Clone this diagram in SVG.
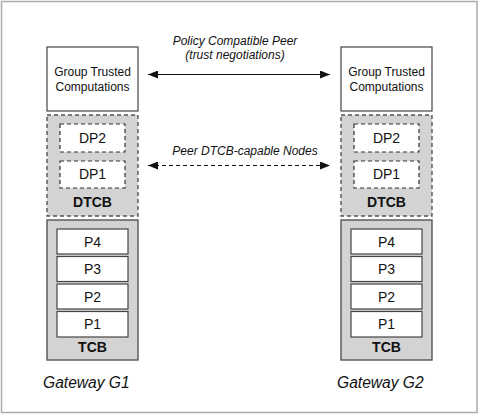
<svg xmlns="http://www.w3.org/2000/svg" width="479" height="415" viewBox="0 0 479 415">
<defs>
<style>
text{font-family:"Liberation Sans",Arial,sans-serif;fill:#111;}
.box{fill:#fff;stroke:#444;stroke-width:1.2;}
.dbox{fill:#fff;stroke:#333;stroke-width:1.2;stroke-dasharray:4 3;}
.dtcb{fill:#d3d3d3;stroke:#555;stroke-width:1.4;stroke-dasharray:4 3;}
.tcb{fill:#d3d3d3;stroke:#555;stroke-width:1.4;}
.t12{font-size:12px;text-anchor:middle;}
.t14{font-size:14px;text-anchor:middle;}
.b14{font-size:14px;font-weight:bold;text-anchor:middle;}
.gw{font-size:15.6px;font-style:italic;}
.lbl{font-size:12px;font-style:italic;text-anchor:middle;}
.conn{stroke:#111;stroke-width:1.2;fill:none;}
</style>
<marker id="ah" viewBox="0 0 10 8" refX="10" refY="4" markerWidth="10" markerHeight="8" markerUnits="userSpaceOnUse" orient="auto-start-reverse">
<path d="M0,0 L10,4 L0,8 z" fill="#111"/>
</marker>
</defs>
<rect x="1.5" y="1.5" width="475.5" height="411" fill="#fff" stroke="#aaa" stroke-width="1.5"/>

<g id="gateway1">
<g id="g1-group">
<rect class="box" x="47" y="47" width="91" height="64"/>
<text class="t12" x="92.5" y="76">Group Trusted</text>
<text class="t12" x="92.5" y="91">Computations</text>
</g>
<g id="g1-dtcb">
<rect class="dtcb" x="47" y="115" width="91" height="101"/>
<rect class="dbox" x="60" y="124" width="65" height="28"/>
<text class="t14" x="92.5" y="143">DP2</text>
<rect class="dbox" x="60" y="161" width="65" height="27"/>
<text class="t14" x="92.5" y="179">DP1</text>
<text class="b14" x="92.5" y="207">DTCB</text>
</g>
<g id="g1-tcb">
<rect class="tcb" x="47" y="220" width="91" height="140"/>
<rect class="box" x="57" y="229" width="71" height="25"/>
<text class="t14" x="92.5" y="246.5">P4</text>
<rect class="box" x="57" y="256.5" width="71" height="25"/>
<text class="t14" x="92.5" y="274">P3</text>
<rect class="box" x="57" y="284" width="71" height="25"/>
<text class="t14" x="92.5" y="301.5">P2</text>
<rect class="box" x="57" y="311.5" width="71" height="25.5"/>
<text class="t14" x="92.5" y="329">P1</text>
<text class="b14" x="92.5" y="352">TCB</text>
</g>
<text class="gw" x="43" y="388">Gateway G1</text>
</g>

<g id="gateway2">
<g id="g2-group">
<rect class="box" x="341" y="47" width="91" height="64"/>
<text class="t12" x="386.5" y="76">Group Trusted</text>
<text class="t12" x="386.5" y="91">Computations</text>
</g>
<g id="g2-dtcb">
<rect class="dtcb" x="341" y="115" width="91" height="101"/>
<rect class="dbox" x="354" y="124" width="65" height="28"/>
<text class="t14" x="386.5" y="143">DP2</text>
<rect class="dbox" x="354" y="161" width="65" height="27"/>
<text class="t14" x="386.5" y="179">DP1</text>
<text class="b14" x="386.5" y="207">DTCB</text>
</g>
<g id="g2-tcb">
<rect class="tcb" x="341" y="220" width="91" height="140"/>
<rect class="box" x="351" y="229" width="71" height="25"/>
<text class="t14" x="386.5" y="246.5">P4</text>
<rect class="box" x="351" y="256.5" width="71" height="25"/>
<text class="t14" x="386.5" y="274">P3</text>
<rect class="box" x="351" y="284" width="71" height="25"/>
<text class="t14" x="386.5" y="301.5">P2</text>
<rect class="box" x="351" y="311.5" width="71" height="25.5"/>
<text class="t14" x="386.5" y="329">P1</text>
<text class="b14" x="386.5" y="352">TCB</text>
</g>
<text class="gw" x="337" y="388">Gateway G2</text>
</g>

<g id="connectors">
<line class="conn" x1="148" y1="74.5" x2="330" y2="74.5" marker-start="url(#ah)" marker-end="url(#ah)"/>
<text class="lbl" x="235" y="45">Policy Compatible Peer</text>
<text class="lbl" x="235" y="59">(trust negotiations)</text>
<line class="conn" x1="148" y1="165.5" x2="330" y2="165.5" stroke-dasharray="4 3" marker-start="url(#ah)" marker-end="url(#ah)"/>
<text class="lbl" x="245" y="154.5">Peer DTCB-capable Nodes</text>
</g>
</svg>
